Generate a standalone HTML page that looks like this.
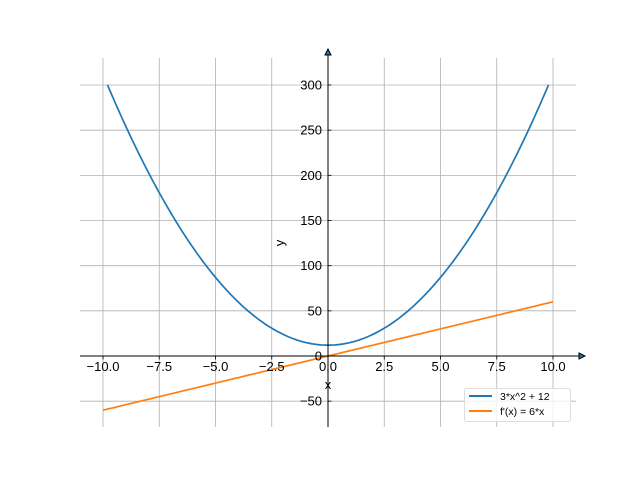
<!DOCTYPE html>
<html><head><meta charset="utf-8"><style>
html,body{margin:0;padding:0;background:#fff}
svg{display:block;font-family:"Liberation Sans","DejaVu Sans",sans-serif}
</style></head><body>
<svg id="chart" width="640" height="480" xmlns="http://www.w3.org/2000/svg">
<rect width="640" height="480" fill="#fff"/>
<g id="grid"></g>
<g id="series"></g>
<g id="axes"></g>
<text x="328" y="389" font-size="13" text-anchor="middle">x</text>
<text transform="translate(284,243) rotate(-90)" font-size="13" text-anchor="middle">y</text>
<g>
<rect x="464.5" y="388.5" width="106" height="33" rx="2" fill="#fff" fill-opacity="0.8" stroke="#ddd"/>
<line x1="469" y1="396" x2="492" y2="396" stroke="#1f77b4" stroke-width="2"/>
<text x="500" y="400" font-size="10.5">3*x^2 + 12</text>
<line x1="469" y1="411" x2="492" y2="411" stroke="#ff7f0e" stroke-width="2"/>
<text x="500" y="415" font-size="10.5">f'(x) = 6*x</text>
</g>
</svg>
<script>
const xTicks=[-10,-7.5,-5,-2.5,0,2.5,5,7.5,10];
const xTickLabels=["−10.0","−7.5","−5.0","−2.5","0.0","2.5","5.0","7.5","10.0"];
const yTicks=[-50,0,50,100,150,200,250,300];
const yTickLabels=["−50","0","50","100","150","200","250","300"];
const coefA=[3];const coefC=[12];const slope=[6];
const parabolaDomain=[-9.8,9.8];
const lineDomain=[-10,10];
const X=v=>328+v*22.5;
const Y=v=>356-v*0.9033;
const NS="http://www.w3.org/2000/svg";
function mk(p,t,a){const e=document.createElementNS(NS,t);for(const k in a)e.setAttribute(k,a[k]);p.appendChild(e);return e;}
const grid=document.getElementById('grid'),axes=document.getElementById('axes'),ser=document.getElementById('series');
xTicks.forEach((v,i)=>{
 const g=mk(grid,'line',{x1:X(v),x2:X(v),y1:58,y2:427,stroke:'#b0b0b0','stroke-width':0.8});
 
 
 const t=mk(axes,'line',{x1:X(v),x2:X(v),y1:356,y2:359.5,stroke:'#000','stroke-width':0.8});
 
 
 const l=mk(axes,'text',{x:X(v),y:371,'font-size':13,'text-anchor':'middle'});l.textContent=xTickLabels[i];
 
 
});
yTicks.forEach((v,i)=>{
 const g=mk(grid,'line',{x1:80,x2:576,y1:Y(v),y2:Y(v),stroke:'#b0b0b0','stroke-width':0.8});
 
 
 const t=mk(axes,'line',{x1:328,x2:331.5,y1:Y(v),y2:Y(v),stroke:'#000','stroke-width':0.8});
 
 
 const l=mk(axes,'text',{x:322,y:Y(v)+4.5,'font-size':13,'text-anchor':'end'});l.textContent=yTickLabels[i];
 
 
});
let p1='',p2='';
for(let i=0;i<=200;i++){
 const x=parabolaDomain[0]+(parabolaDomain[1]-parabolaDomain[0])*i/200;
 p1+=(i?'L':'M')+X(x).toFixed(2)+','+Y(coefA[0]*x*x+coefC[0]).toFixed(2);
 const x2=lineDomain[0]+(lineDomain[1]-lineDomain[0])*i/200;
 p2+=(i?'L':'M')+X(x2).toFixed(2)+','+Y(slope[0]*x2).toFixed(2);}
const s1=mk(ser,'path',{d:p1,fill:'none',stroke:'#1f77b4','stroke-width':1.7});


const s2=mk(ser,'path',{d:p2,fill:'none',stroke:'#ff7f0e','stroke-width':1.7});


const xs=mk(axes,'line',{x1:80,x2:582,y1:356,y2:356,stroke:'#000','stroke-width':1});


const ys=mk(axes,'line',{x1:328,x2:328,y1:52,y2:427,stroke:'#000','stroke-width':1});


const ax=mk(axes,'path',{d:'M579,353 L585,356 L579,359 Z',fill:'#1f77b4',stroke:'#000','stroke-width':1});


const ay=mk(axes,'path',{d:'M325,55 L328,49 L331,55 Z',fill:'#1f77b4',stroke:'#000','stroke-width':1});


</script>
</body></html>
